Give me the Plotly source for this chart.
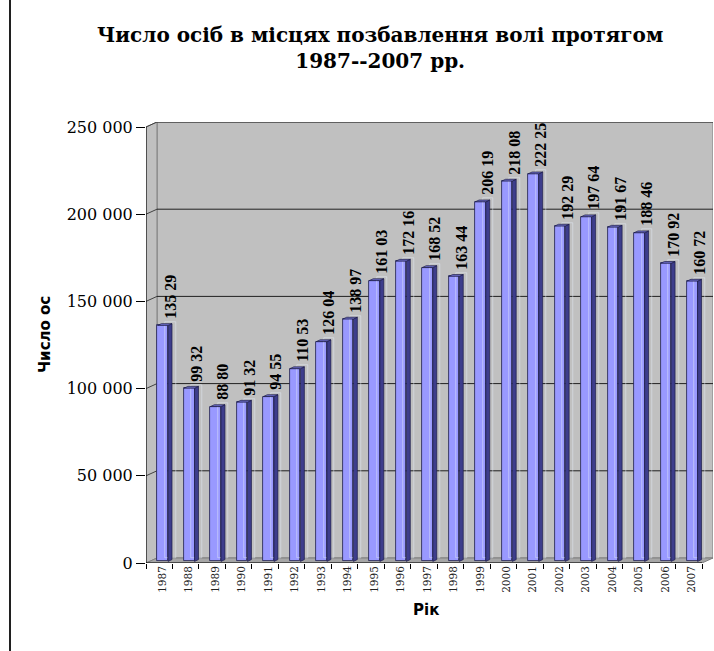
import plotly.graph_objects as go

# Number of persons held in places of detention, 1987-2007
years = [1987, 1988, 1989, 1990, 1991, 1992, 1993, 1994, 1995, 1996, 1997,
         1998, 1999, 2000, 2001, 2002, 2003, 2004, 2005, 2006, 2007]
persons = [135290, 99320, 88800, 91320, 94550, 110530, 126040, 138970, 161030,
           172160, 168520, 163440, 206190, 218080, 222250, 192290, 197640,
           191670, 188460, 170920, 160720]
y_ticks = [0, 50000, 100000, 150000, 200000, 250000]
y_tick_text = ["0", "50 000", "100 000", "150 000", "200 000", "250 000"]

W, H = 714, 651
# plot area in pixels
PX_L, PX_R, PX_T, PX_B = 146, 713, 122, 563
CAT_PX = (702 - 146) / len(years)          # front-plane width of one category
PPU = 436 / 250000                           # pixels per value unit
DEPTH_X_PX, DEPTH_Y_PX = 11, 5               # oblique depth of the 3-D box

dx = DEPTH_X_PX / CAT_PX
dy = DEPTH_Y_PX / PPU
x0 = -0.5
x1 = len(years) - 0.5
x_range = [x0, x0 + (PX_R - PX_L) / CAT_PX]
y_range = [0, (PX_B - PX_T) / PPU]

zf, zb = 0.32, 0.68      # bar front / back depth fractions
bw = 0.40                # bar width in category units

idx = list(range(len(years)))
fx = [i + zf * dx for i in idx]
base = zf * dy
d_x = (zb - zf) * dx
d_y = (zb - zf) * dy

labels = [f"{v:,}".replace(",", " ")[:-1] for v in persons]

# side and top faces of each column
side_x, side_y, top_x, top_y = [], [], [], []
for c, v in zip(fx, persons):
    xl, xr = c - bw / 2, c + bw / 2
    yt = base + v
    side_x += [xr, xr, xr + d_x, xr + d_x, xr, None]
    side_y += [base, yt, yt + d_y, base + d_y, base, None]
    top_x += [xl, xr, xr + d_x, xl + d_x, xl, None]
    top_y += [yt, yt, yt + d_y, yt + d_y, yt, None]

edge = "#1c1c48"
fig = go.Figure()
fig.add_trace(go.Scatter(x=side_x, y=side_y, mode="lines", fill="toself",
                         fillcolor="#3d3d8c", line=dict(color=edge, width=0.7),
                         hoverinfo="skip", showlegend=False))
fig.add_trace(go.Bar(x=fx, y=persons, base=base, width=bw,
                     marker=dict(color="#9999ff", line=dict(color=edge, width=0.8)),
                     showlegend=False))
fig.add_trace(go.Scatter(x=top_x, y=top_y, mode="lines", fill="toself",
                         fillcolor="#6b6bc4", line=dict(color=edge, width=0.7),
                         hoverinfo="skip", showlegend=False))
# value labels
fig.add_trace(go.Bar(x=[i + 1.0 * dx for i in idx], y=persons, base=dy, width=bw,
                     marker=dict(color="rgba(0,0,0,0)"),
                     text=labels, textposition="outside", textangle=-90,
                     constraintext="none", cliponaxis=False,
                     textfont=dict(family="Liberation Serif", size=16, color="black",
                                   weight="bold"),
                     hoverinfo="skip", showlegend=False))

wall_line = dict(color="#808080", width=1)
shapes = [
    # back wall
    dict(type="rect", xref="x", yref="y", x0=x0 + dx, x1=x1 + dx, y0=dy, y1=250000 + dy,
         fillcolor="#c0c0c0", line=wall_line, layer="below"),
    # side wall
    dict(type="path", xref="x", yref="y",
         path=f"M{x0},0 L{x0},250000 L{x0 + dx},{250000 + dy} L{x0 + dx},{dy} Z",
         fillcolor="#c0c0c0", line=wall_line, layer="below"),
    # floor
    dict(type="path", xref="x", yref="y",
         path=f"M{x0},0 L{x1},0 L{x1 + dx},{dy} L{x0 + dx},{dy} Z",
         fillcolor="#a6a6a6", line=wall_line, layer="below"),
]
for g in y_ticks[1:]:
    shapes.append(dict(type="line", xref="x", yref="y", x0=x0 + dx, x1=x1 + dx,
                       y0=g + dy, y1=g + dy, line=dict(color="#202020", width=1),
                       layer="below"))
    shapes.append(dict(type="line", xref="x", yref="y", x0=x0, x1=x0 + dx,
                       y0=g, y1=g + dy, line=dict(color="#404040", width=1),
                       layer="below"))
# front axis lines
shapes.append(dict(type="line", xref="x", yref="y", x0=x0, x1=x0, y0=0, y1=250000,
                   line=dict(color="black", width=1)))
shapes.append(dict(type="line", xref="x", yref="y", x0=x0, x1=x1, y0=0, y1=0,
                   line=dict(color="black", width=1.2)))
# chart area border on the left
shapes.append(dict(type="line", xref="paper", yref="paper",
                   x0=(10 - PX_L) / (PX_R - PX_L), x1=(10 - PX_L) / (PX_R - PX_L),
                   y0=-2, y1=2, line=dict(color="#202020", width=2)))


def px_x(p):
    return (p - PX_L) / (PX_R - PX_L)


def px_y(p):
    return (PX_B - p) / (PX_B - PX_T)


annotations = [
    dict(text="<b>Рік</b>", xref="paper", yref="paper", x=px_x(426), y=px_y(610),
         xanchor="center", yanchor="middle", showarrow=False,
         font=dict(family="DejaVu Sans", size=15, color="black")),
    dict(text="<b>Число ос</b>", xref="paper", yref="paper", x=px_x(45), y=px_y(335),
         xanchor="center", yanchor="middle", showarrow=False, textangle=-90,
         font=dict(family="DejaVu Sans", size=15, color="black")),
    dict(text="<b>Число осіб в місцях позбавлення волі протягом<br>1987--2007 рр.</b>",
         xref="paper", yref="paper", x=px_x(380), y=px_y(48),
         xanchor="center", yanchor="middle", showarrow=False,
         font=dict(family="DejaVu Serif", size=20, color="black")),
]

fig.update_layout(
    width=W, height=H, autosize=False,
    margin=dict(l=PX_L, r=W - PX_R, t=PX_T, b=H - PX_B, pad=0),
    paper_bgcolor="white", plot_bgcolor="rgba(0,0,0,0)",
    barmode="overlay", bargap=0,
    shapes=shapes, annotations=annotations,
    xaxis=dict(range=x_range, showgrid=False, zeroline=False, showline=False,
               tickmode="array", tickvals=[i + 0.12 for i in idx],
               ticktext=[str(y) for y in years], tickangle=-90, ticks="",
               tickfont=dict(family="DejaVu Serif", size=10.5, color="#202020"),
               minor=dict(tickmode="linear", tick0=-0.5, dtick=1, ticks="outside",
                          ticklen=5, tickcolor="black", showgrid=False),
               automargin=False, fixedrange=True),
    yaxis=dict(range=y_range, showgrid=False, zeroline=False, showline=False,
               tickmode="array", tickvals=y_ticks, ticktext=y_tick_text,
               ticks="outside", ticklen=9, tickcolor="black",
               tickfont=dict(family="DejaVu Serif", size=16, color="black"),
               automargin=False, fixedrange=True),
)

fig.write_html("out.html")
